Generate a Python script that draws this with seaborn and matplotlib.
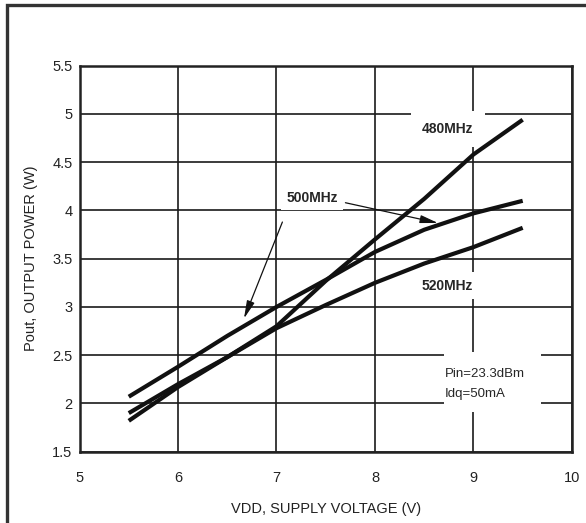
import pandas as pd
import matplotlib.pyplot as plt
import matplotlib.patches as patches
import seaborn as sns

# 数据
vdd = [5.5, 6.0, 6.5, 7.0, 7.5, 8.0, 8.5, 9.0, 9.5]
pout_480 = [1.82, 2.17, 2.48, 2.80, 3.27, 3.70, 4.12, 4.58, 4.94]
pout_500 = [2.07, 2.38, 2.70, 3.00, 3.28, 3.57, 3.80, 3.97, 4.10]
pout_520 = [1.90, 2.20, 2.48, 2.78, 3.02, 3.25, 3.45, 3.62, 3.82]
freqs = ["480MHz", "500MHz", "520MHz"]

x_ticks = [5, 6, 7, 8, 9, 10]
y_ticks = [1.5, 2, 2.5, 3, 3.5, 4, 4.5, 5, 5.5]

df = pd.DataFrame({
    "vdd": vdd * 3,
    "pout": pout_480 + pout_500 + pout_520,
    "freq": [f for f in freqs for _ in vdd],
})

sns.set_theme(style="white")
plt.rcParams["font.family"] = ["Liberation Sans", "DejaVu Sans"]

fig = plt.figure(figsize=(5.86, 5.23), dpi=100)
ax = fig.add_axes([0.1357, 0.1363, 0.8403, 0.7381])

sns.lineplot(data=df, x="vdd", y="pout", hue="freq",
             palette=["#111111"] * 3, linewidth=3.0,
             legend=False, ax=ax, zorder=2, solid_capstyle="butt")

ax.set_xlim(5, 10)
ax.set_ylim(1.5, 5.5)
ax.set_xticks(x_ticks)
ax.set_yticks(y_ticks)
ax.set_xticklabels([str(t) for t in x_ticks])
ax.set_yticklabels([f"{t:g}" for t in y_ticks])
ax.tick_params(axis="both", length=0, labelsize=10.5, colors="#222222")
ax.tick_params(axis="x", pad=14)
ax.tick_params(axis="y", pad=5)

ax.set_axisbelow(True)
ax.grid(True, color="#1a1a1a", linewidth=1.2)
for s in ax.spines.values():
    s.set_color("#222222")
    s.set_linewidth(1.8)

ax.set_xlabel("VDD, SUPPLY VOLTAGE (V)", fontsize=10.5, color="#222222", labelpad=12)
ax.set_ylabel("Pout, OUTPUT POWER (W)", fontsize=10.5, color="#222222", labelpad=10)

# 标注
ax.text(8.74, 4.84, "480MHz", fontsize=10, fontweight="bold", ha="center", va="center",
        bbox=dict(facecolor="white", edgecolor="none", boxstyle="square,pad=0.8"), zorder=1.5)
ax.text(7.36, 4.13, "500MHz", fontsize=10, fontweight="bold", ha="center", va="center",
        bbox=dict(facecolor="white", edgecolor="none", boxstyle="square,pad=0.4"), zorder=1.5)
ax.text(8.73, 3.22, "520MHz", fontsize=10, fontweight="bold", ha="center", va="center",
        bbox=dict(facecolor="white", edgecolor="none", boxstyle="square,pad=0.45"), zorder=1.5)

ax.add_patch(patches.Rectangle((8.70, 1.91), 0.99, 0.62, facecolor="white",
                               edgecolor="none", zorder=1.2))
ax.text(8.71, 2.31, "Pin=23.3dBm", fontsize=9.5, ha="left", va="center", zorder=1.5)
ax.text(8.71, 2.10, "Idq=50mA", fontsize=9.5, ha="left", va="center", zorder=1.5)

arrow = dict(arrowstyle="-|>,head_length=0.9,head_width=0.2", color="#111111",
             lw=0.9, shrinkA=0, shrinkB=0)
ax.annotate("", xy=(6.67, 2.88), xytext=(7.06, 3.88), arrowprops=arrow, zorder=3)
ax.annotate("", xy=(8.64, 3.87), xytext=(7.70, 4.08), arrowprops=arrow, zorder=3)

# 外框
fig.patches.append(patches.Rectangle((7 / 586, -0.05), 1.0, 1.05 - 5.5 / 523,
                                     transform=fig.transFigure, fill=False,
                                     edgecolor="#333333", linewidth=2.4))

fig.savefig("out.png", dpi=100)
